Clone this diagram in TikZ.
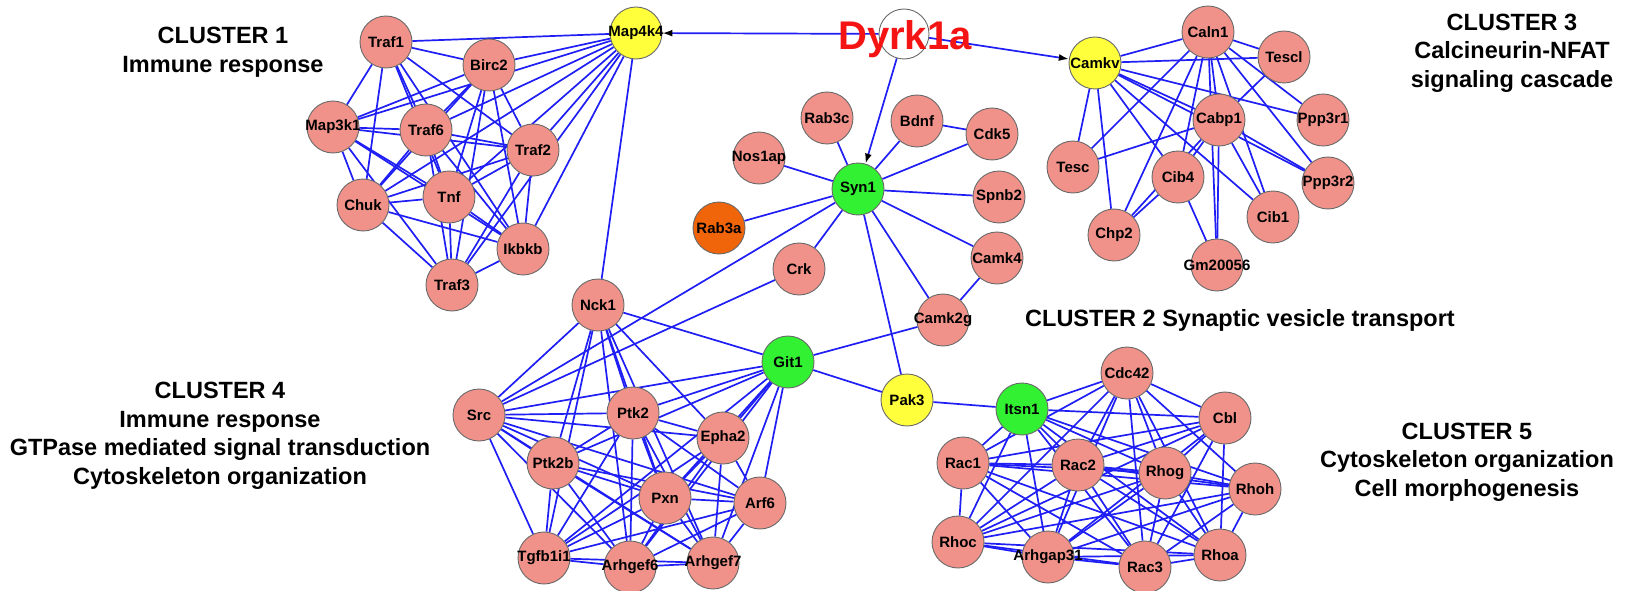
\documentclass[tikz,border=0pt]{standalone}
\usepackage{fontspec}
\setmainfont{Liberation Sans}
\usetikzlibrary{arrows.meta,backgrounds}

\definecolor{genepink}{RGB}{241,146,138}
\definecolor{hubyellow}{RGB}{255,255,60}
\definecolor{syngreen}{RGB}{50,240,50}
\definecolor{raborange}{RGB}{240,100,10}
\definecolor{nodeborder}{RGB}{105,105,105}
\definecolor{linkblue}{RGB}{30,30,245}
\definecolor{dyrkred}{RGB}{245,20,20}

\begin{document}
\begin{tikzpicture}[
  x=1pt, y=-1pt,
  >=Latex,
  every node/.style={font=\fontsize{15}{15}\selectfont\bfseries},
  gene/.style={circle, draw=nodeborder, line width=0.9pt, fill=genepink,
    minimum size=52pt, inner xsep=-12pt, inner ysep=0pt},
  hubgene/.style={gene, fill=hubyellow},
  syngene/.style={gene, fill=syngreen},
  link/.style={linkblue, line width=1.7pt},
  arrow/.style={link, -{Latex[color=black, length=10pt, width=7pt]}},
  cluster/.style={font=\fontsize{23.5}{28.5}\selectfont\bfseries, align=center}
]
\useasboundingbox (0,0) rectangle (1630,591);

% Cluster 1
\node[gene] (traf1) at (386,42) {Traf1};
\node[gene] (birc2) at (489,65) {Birc2};
\node[hubgene] (map4k4) at (636,33) {Map4k4};
\node[gene] (map3k1) at (333,127) {Map3k1};
\node[gene] (traf6) at (426,130) {Traf6};
\node[gene] (traf2) at (533,150) {Traf2};
\node[gene] (chuk) at (363,205) {Chuk};
\node[gene] (tnf) at (449,197) {Tnf};
\node[gene] (ikbkb) at (523,249) {Ikbkb};
\node[gene] (traf3) at (452,285) {Traf3};

% Cluster 2 (around Syn1)
\node[circle, draw=nodeborder, line width=0.9pt, fill=white, minimum size=50pt] (dyrk1a) at (904,34) {};
\node[gene] (rab3c) at (827,118) {Rab3c};
\node[gene] (bdnf) at (917,121) {Bdnf};
\node[gene] (cdk5) at (992,134) {Cdk5};
\node[gene] (nos1ap) at (759,158) {Nos1ap};
\node[syngene] (syn1) at (858,189) {Syn1};
\node[gene] (spnb2) at (999,197) {Spnb2};
\node[gene, fill=raborange] (rab3a) at (719,228) {Rab3a};
\node[gene] (crk) at (799,269) {Crk};
\node[gene] (camk4) at (997,258) {Camk4};
\node[gene] (camk2g) at (943,320) {Camk2g};

% Cluster 3
\node[hubgene] (camkv) at (1095,63) {Camkv};
\node[gene] (caln1) at (1208,32) {Caln1};
\node[gene] (tescl) at (1284,57) {Tescl};
\node[gene] (cabp1) at (1219,120) {Cabp1};
\node[gene] (ppp3r1) at (1323,120) {Ppp3r1};
\node[gene] (tesc) at (1073,167) {Tesc};
\node[gene] (cib4) at (1178,177) {Cib4};
\node[gene] (ppp3r2) at (1328,183) {Ppp3r2};
\node[gene] (cib1) at (1273,217) {Cib1};
\node[gene] (chp2) at (1114,235) {Chp2};
\node[gene] (gm20056) at (1217,265) {Gm20056};

% Cluster 4
\node[gene] (nck1) at (598,305) {Nck1};
\node[syngene] (git1) at (788,362) {Git1};
\node[gene] (src) at (479,415) {Src};
\node[gene] (ptk2) at (633,413) {Ptk2};
\node[gene] (epha2) at (723,438) {Epha2};
\node[gene] (ptk2b) at (553,463) {Ptk2b};
\node[gene] (pxn) at (665,498) {Pxn};
\node[gene] (arf6) at (760,503) {Arf6};
\node[gene] (tgfb1i1) at (544,558) {Tgfb1i1};
\node[gene] (arhgef6) at (630,567) {Arhgef6};
\node[gene] (arhgef7) at (713,563) {Arhgef7};
\node[hubgene] (pak3) at (907,400) {Pak3};

% Cluster 5
\node[gene] (cdc42) at (1127,373) {Cdc42};
\node[syngene] (itsn1) at (1022,409) {Itsn1};
\node[gene] (cbl) at (1225,418) {Cbl};
\node[gene] (rac1) at (963,463) {Rac1};
\node[gene] (rac2) at (1078,465) {Rac2};
\node[gene] (rhog) at (1165,473) {Rhog};
\node[gene] (rhoh) at (1255,489) {Rhoh};
\node[gene] (rhoc) at (958,542) {Rhoc};
\node[gene] (arhgap31) at (1048,557) {Arhgap31};
\node[gene] (rac3) at (1145,567) {Rac3};
\node[gene] (rhoa) at (1220,555) {Rhoa};

% Big red label on top of the Dyrk1a circle
\node[font=\fontsize{40}{40}\selectfont\bfseries, text=dyrkred, anchor=base] (dyrk1a_label) at (905,50) {Dyrk1a};

% Cluster titles
\node[cluster] (cluster1_label) at (223,52) {CLUSTER 1\\Immune response};
\node[cluster] (cluster2_label) at (1240,320) {CLUSTER 2 Synaptic vesicle transport};
\node[cluster] (cluster3_label) at (1512,53) {CLUSTER 3\\Calcineurin-NFAT\\signaling cascade};
\node[cluster] (cluster4_label) at (220,436) {CLUSTER 4\\Immune response\\GTPase mediated signal transduction\\Cytoskeleton organization};
\node[cluster] (cluster5_label) at (1467,462) {CLUSTER 5\\Cytoskeleton organization\\Cell morphogenesis};

\begin{scope}[on background layer]
\fill[white] (0,0) rectangle (1630,591);

% Cluster 1 edges
\foreach \a/\others in {
  traf1/{birc2,map4k4,map3k1,traf6,traf2,chuk,tnf,ikbkb},
  birc2/{map4k4,map3k1,traf6,traf2,chuk,tnf,ikbkb,traf3},
  map4k4/{map3k1,traf6,traf2,chuk,tnf,ikbkb,traf3,nck1},
  map3k1/{traf6,traf2,chuk,tnf,ikbkb,traf3},
  traf6/{traf2,chuk,tnf,ikbkb,traf3},
  traf2/{chuk,tnf,ikbkb,traf3},
  chuk/{tnf,ikbkb,traf3},
  tnf/{ikbkb,traf3},
  ikbkb/{traf3}}
  \foreach \b in \others \draw[link] (\a) -- (\b);

% Cluster 2 edges
\foreach \b in {rab3c,bdnf,cdk5,nos1ap,spnb2,rab3a,crk,camk4,camk2g,src,pak3}
  \draw[link] (syn1) -- (\b);
\foreach \a/\b in {bdnf/cdk5, camk4/camk2g, camk2g/git1, crk/src, nck1/git1,
  git1/pak3, pak3/itsn1}
  \draw[link] (\a) -- (\b);

% Cluster 3 edges
\foreach \a/\others in {
  camkv/{caln1,tescl,cabp1,ppp3r1,ppp3r2,tesc,chp2,cib4,cib1},
  caln1/{tescl,cabp1,ppp3r1,ppp3r2,tesc,chp2,cib4,cib1,gm20056},
  cabp1/{tescl,tesc,cib4,chp2,gm20056,cib1,ppp3r2},
  cib4/{chp2,gm20056}}
  \foreach \b in \others \draw[link] (\a) -- (\b);

% Cluster 4 edges
\foreach \a/\others in {
  nck1/{src,ptk2,epha2,ptk2b,pxn,tgfb1i1,arhgef6,arhgef7},
  git1/{src,ptk2,epha2,ptk2b,pxn,arf6,tgfb1i1,arhgef6,arhgef7},
  src/{ptk2,epha2,ptk2b,pxn,arf6,tgfb1i1,arhgef6,arhgef7},
  ptk2/{epha2,ptk2b,pxn,arf6,tgfb1i1,arhgef6,arhgef7},
  epha2/{pxn,arf6,tgfb1i1,arhgef6,arhgef7},
  ptk2b/{pxn,arf6,tgfb1i1,arhgef6,arhgef7},
  pxn/{arf6,tgfb1i1,arhgef6,arhgef7},
  arf6/{tgfb1i1,arhgef6,arhgef7},
  tgfb1i1/{arhgef6,arhgef7},
  arhgef6/{arhgef7}}
  \foreach \b in \others \draw[link] (\a) -- (\b);

% Cluster 5 edges
\foreach \a/\others in {
  itsn1/{cdc42,cbl,rac1,rac2,rhog,rhoh,rhoc,arhgap31,rac3,rhoa},
  cdc42/{cbl,rac1,rac2,rhog,rhoh,rhoc,arhgap31,rac3,rhoa},
  cbl/{rac1,rac2,rhog,rhoc,arhgap31,rac3,rhoa},
  rac1/{rac2,rhog,rhoh,rhoc,arhgap31,rac3,rhoa},
  rac2/{rhog,rhoh,rhoc,arhgap31,rac3,rhoa},
  rhog/{rhoh,rhoc,arhgap31,rac3,rhoa},
  rhoh/{rhoc,arhgap31,rac3,rhoa},
  rhoc/{arhgap31,rac3,rhoa},
  arhgap31/{rac3,rhoa},
  rac3/{rhoa}}
  \foreach \b in \others \draw[link] (\a) -- (\b);

% Dyrk1a targets
\foreach \b in {map4k4,camkv,syn1}
  \draw[arrow] (dyrk1a) -- (\b);
\end{scope}

\end{tikzpicture}
\end{document}
